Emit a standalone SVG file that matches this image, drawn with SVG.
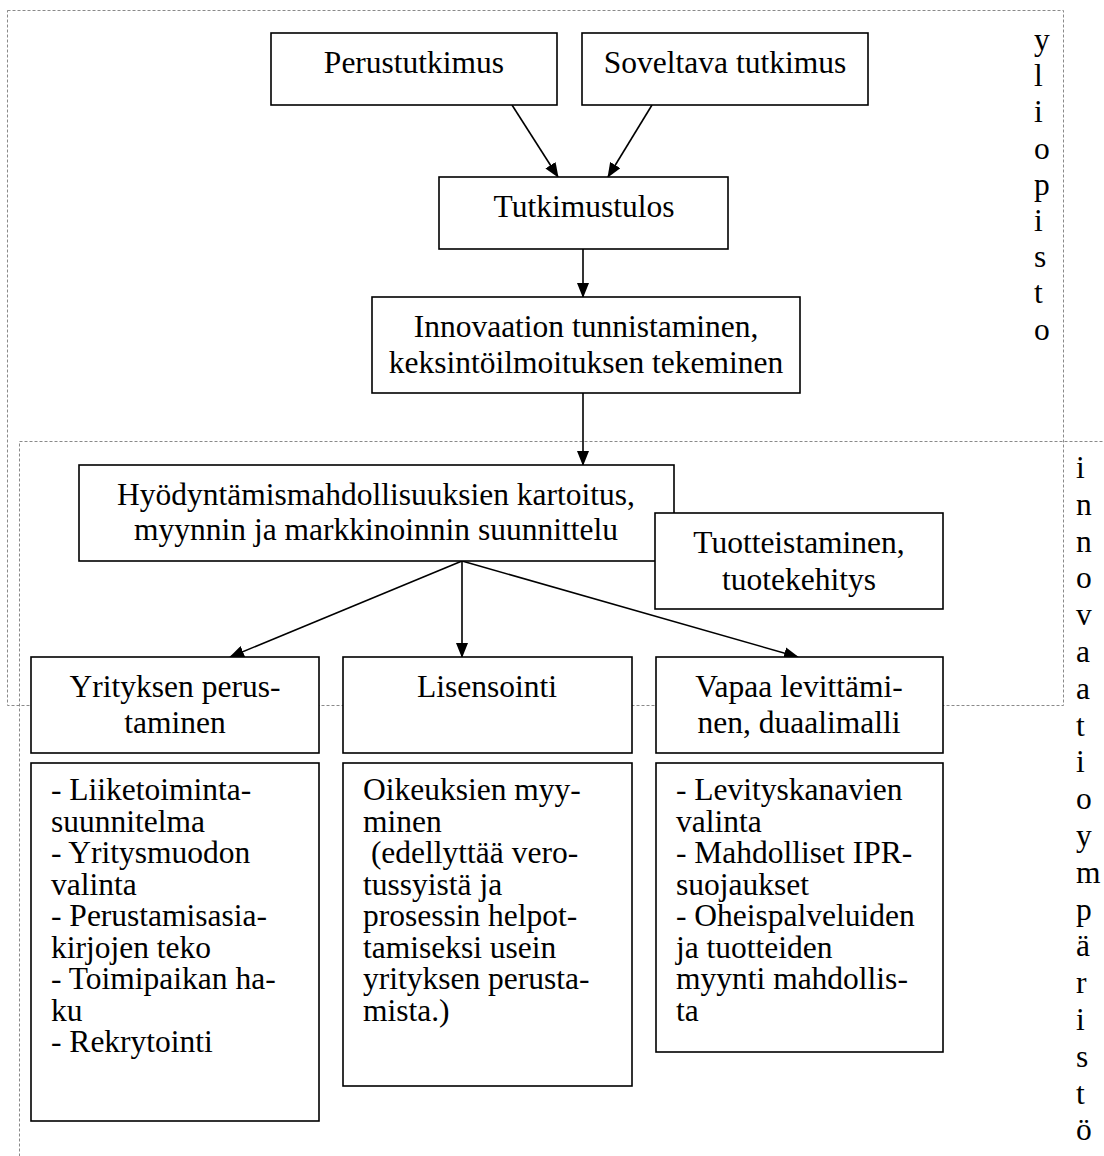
<svg xmlns="http://www.w3.org/2000/svg" width="1104" height="1156" viewBox="0 0 1104 1156">
<style>
.zone{fill:none;stroke:#8a8a8a;stroke-width:1;stroke-dasharray:3,2}
.box{fill:#fff;stroke:#000;stroke-width:1.6}
.t{font-family:"Liberation Serif","Times New Roman",serif;font-size:31.5px;fill:#000}
.c{text-anchor:middle}
.edge{stroke:#000;stroke-width:1.6;fill:none;marker-end:url(#ah)}
</style>
<defs>
<marker id="ah" markerUnits="userSpaceOnUse" markerWidth="15" markerHeight="12" refX="14" refY="6" orient="auto">
<path d="M0,0 L15,6 L0,12 Z" fill="#000"/>
</marker>
</defs>
<g id="zones">
<rect class="zone" x="7.5" y="10.5" width="1056" height="695"/>
<rect class="zone" x="19.5" y="441.5" width="1120" height="760"/>
</g>
<g id="side-labels">
<text class="t" x="1034" y="50"><tspan x="1034" y="50">y</tspan><tspan x="1034" y="86.2">l</tspan><tspan x="1034" y="122.4">i</tspan><tspan x="1034" y="158.6">o</tspan><tspan x="1034" y="194.8">p</tspan><tspan x="1034" y="231">i</tspan><tspan x="1034" y="267.2">s</tspan><tspan x="1034" y="303.4">t</tspan><tspan x="1034" y="339.6">o</tspan></text>
<text class="t" x="1076" y="478"><tspan x="1076" y="478">i</tspan><tspan x="1076" y="514.8">n</tspan><tspan x="1076" y="551.6">n</tspan><tspan x="1076" y="588.4">o</tspan><tspan x="1076" y="625.2">v</tspan><tspan x="1076" y="662">a</tspan><tspan x="1076" y="698.8">a</tspan><tspan x="1076" y="735.6">t</tspan><tspan x="1076" y="772.4">i</tspan><tspan x="1076" y="809.2">o</tspan><tspan x="1076" y="846">y</tspan><tspan x="1076" y="882.8">m</tspan><tspan x="1076" y="919.6">p</tspan><tspan x="1076" y="956.4">ä</tspan><tspan x="1076" y="993.2">r</tspan><tspan x="1076" y="1030">i</tspan><tspan x="1076" y="1066.8">s</tspan><tspan x="1076" y="1103.6">t</tspan><tspan x="1076" y="1140.4">ö</tspan></text>
</g>
<g id="connectors">
<line class="edge" x1="512" y1="105" x2="558" y2="177"/>
<line class="edge" x1="652" y1="105" x2="608" y2="177"/>
<line class="edge" x1="583" y1="249" x2="583" y2="297"/>
<line class="edge" x1="583" y1="393" x2="583" y2="465"/>
<line class="edge" x1="462" y1="561" x2="230" y2="657"/>
<line class="edge" x1="462" y1="561" x2="462" y2="657"/>
<line class="edge" x1="462" y1="561" x2="798" y2="657"/>
</g>
<g id="perustutkimus">
<rect class="box" x="271" y="33" width="286" height="72"/>
<text class="t c" x="414" y="73">Perustutkimus</text>
</g>
<g id="soveltava">
<rect class="box" x="582" y="33" width="286" height="72"/>
<text class="t c" x="725" y="73">Soveltava tutkimus</text>
</g>
<g id="tutkimustulos">
<rect class="box" x="439" y="177" width="289" height="72"/>
<text class="t c" x="584" y="217">Tutkimustulos</text>
</g>
<g id="innovaation">
<rect class="box" x="372" y="297" width="428" height="96"/>
<text class="t c" x="586" y="337">Innovaation tunnistaminen,</text>
<text class="t c" x="586" y="373">keksintöilmoituksen tekeminen</text>
</g>
<g id="hyodyntamis">
<rect class="box" x="79" y="465" width="595" height="96"/>
<text class="t c" x="376" y="505">Hyödyntämismahdollisuuksien kartoitus,</text>
<text class="t c" x="376" y="540">myynnin ja markkinoinnin suunnittelu</text>
</g>
<g id="tuotteistaminen">
<rect class="box" x="655" y="513" width="288" height="96"/>
<text class="t c" x="799" y="553">Tuotteistaminen,</text>
<text class="t c" x="799" y="590">tuotekehitys</text>
</g>
<g id="yrityksen">
<rect class="box" x="31" y="657" width="288" height="96"/>
<text class="t c" x="175" y="697">Yrityksen perus-</text>
<text class="t c" x="175" y="733">taminen</text>
</g>
<g id="lisensointi">
<rect class="box" x="343" y="657" width="289" height="96"/>
<text class="t c" x="487" y="697">Lisensointi</text>
</g>
<g id="vapaa">
<rect class="box" x="656" y="657" width="287" height="96"/>
<text class="t c" x="799" y="697">Vapaa levittämi-</text>
<text class="t c" x="799" y="733">nen, duaalimalli</text>
</g>
<g id="yritys-tehtavat">
<rect class="box" x="31" y="763" width="288" height="358"/>
<text class="t" x="51" y="800"><tspan x="51" y="800">- Liiketoiminta-</tspan><tspan x="51" y="831.5">suunnitelma</tspan><tspan x="51" y="863">- Yritysmuodon</tspan><tspan x="51" y="894.5">valinta</tspan><tspan x="51" y="926">- Perustamisasia-</tspan><tspan x="51" y="957.5">kirjojen teko</tspan><tspan x="51" y="989">- Toimipaikan ha-</tspan><tspan x="51" y="1020.5">ku</tspan><tspan x="51" y="1052">- Rekrytointi</tspan></text>
</g>
<g id="lisensointi-tehtavat">
<rect class="box" x="343" y="763" width="289" height="323"/>
<text class="t" x="363" y="800" xml:space="preserve"><tspan x="363" y="800">Oikeuksien myy-</tspan><tspan x="363" y="831.5">minen</tspan><tspan x="363" y="863"> (edellyttää vero-</tspan><tspan x="363" y="894.5">tussyistä ja</tspan><tspan x="363" y="926">prosessin helpot-</tspan><tspan x="363" y="957.5">tamiseksi usein</tspan><tspan x="363" y="989">yrityksen perusta-</tspan><tspan x="363" y="1020.5">mista.)</tspan></text>
</g>
<g id="vapaa-tehtavat">
<rect class="box" x="656" y="763" width="287" height="289"/>
<text class="t" x="676" y="800"><tspan x="676" y="800">- Levityskanavien</tspan><tspan x="676" y="831.5">valinta</tspan><tspan x="676" y="863">- Mahdolliset IPR-</tspan><tspan x="676" y="894.5">suojaukset</tspan><tspan x="676" y="926">- Oheispalveluiden</tspan><tspan x="676" y="957.5">ja tuotteiden</tspan><tspan x="676" y="989">myynti mahdollis-</tspan><tspan x="676" y="1020.5">ta</tspan></text>
</g>
</svg>
